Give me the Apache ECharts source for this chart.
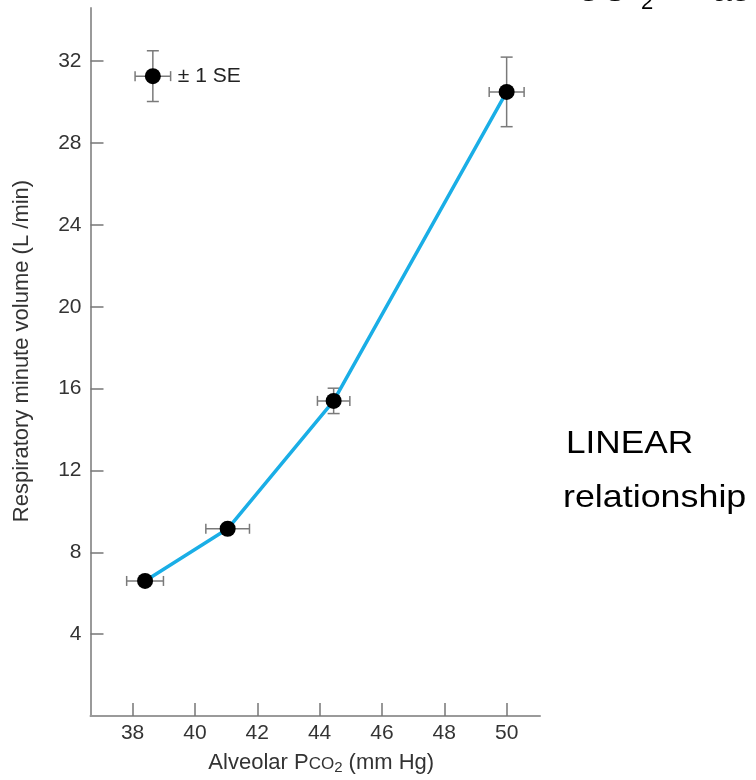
<!DOCTYPE html>
<html><head><meta charset="utf-8">
<script src="https://cdn.jsdelivr.net/npm/echarts@6/dist/echarts.min.js"></script>
<style>html,body{margin:0;padding:0;background:#fff}#c{width:756px;height:780px}</style>
</head><body><div id="c"></div>
<script>
// Data
const pco2 = [38.4, 41.05, 44.45, 50.0];          // Alveolar PCO2 (mm Hg)
const minuteVolume = [6.6, 9.15, 15.4, 30.5];     // Respiratory minute volume (L/min)
const pco2SE = [0.59, 0.7, 0.52, 0.56];
const volumeSE = [0, 0, 0.62, 1.7];
const keyPoint = [38.65, 31.27];                  // "± 1 SE" key symbol
const keyPointSE = [0.57, 1.24];
const xTicks = [38, 40, 42, 44, 46, 48, 50];
const yTicks = [4, 8, 12, 16, 20, 24, 28, 32];
const xRange = [36.65, 51.07];
const yRange = [0, 34.6];

const FONT = 'Liberation Sans, Arial, sans-serif';
const points = pco2.map((x, i) => [x, minuteVolume[i], pco2SE[i], volumeSE[i]]);
const keyData = [[keyPoint[0], keyPoint[1], keyPointSE[0], keyPointSE[1]]];

function errRender(params, api) {
  const x = api.value(0), y = api.value(1), ex = api.value(2), ey = api.value(3);
  const st = { stroke: '#7a7a7a', lineWidth: 1.5 };
  const cap = 5;
  const ch = [];
  if (ex > 0) {
    const l = api.coord([x - ex, y]), r = api.coord([x + ex, y]);
    ch.push({ type: 'line', shape: { x1: l[0], y1: l[1], x2: r[0], y2: r[1] }, style: st });
    ch.push({ type: 'line', shape: { x1: l[0], y1: l[1] - cap, x2: l[0], y2: l[1] + cap }, style: st });
    ch.push({ type: 'line', shape: { x1: r[0], y1: r[1] - cap, x2: r[0], y2: r[1] + cap }, style: st });
  }
  if (ey > 0) {
    const t = api.coord([x, y + ey]), b = api.coord([x, y - ey]);
    ch.push({ type: 'line', shape: { x1: t[0], y1: t[1], x2: b[0], y2: b[1] }, style: st });
    ch.push({ type: 'line', shape: { x1: t[0] - cap - 1, y1: t[1], x2: t[0] + cap + 1, y2: t[1] }, style: st });
    ch.push({ type: 'line', shape: { x1: b[0] - cap - 1, y1: b[1], x2: b[0] + cap + 1, y2: b[1] }, style: st });
  }
  return { type: 'group', children: ch };
}

const chart = echarts.init(document.getElementById('c'), null, { renderer: 'canvas' });
chart.setOption({
  animation: false,
  backgroundColor: '#fff',
  grid: { left: 90.5, right: 216, top: 8, bottom: 58, containLabel: false },
  xAxis: {
    type: 'value', min: xRange[0], max: xRange[1],
    axisLine: { show: true, onZero: false, lineStyle: { color: '#9a9a9a', width: 2 } },
    axisTick: { show: true, inside: true, length: 13, customValues: xTicks, lineStyle: { color: '#777', width: 1.5 } },
    axisLabel: { customValues: xTicks, fontSize: 21, color: '#333', margin: 7, fontFamily: FONT },
    splitLine: { show: false },
    name: 'Alveolar P{sc|CO}{sub|2} (mm Hg)',
    nameLocation: 'middle', nameGap: 34,
    nameTextStyle: {
      fontSize: 22, color: '#333', fontFamily: FONT, padding: [0, 0, 0, 12],
      rich: {
        sc: { fontSize: 17, color: '#333', fontFamily: FONT, padding: [3, 0, 0, 0] },
        sub: { fontSize: 15, color: '#333', fontFamily: FONT, padding: [10, 0, 0, 0] }
      }
    }
  },
  yAxis: {
    type: 'value', min: yRange[0], max: yRange[1],
    axisLine: { show: true, onZero: false, lineStyle: { color: '#9a9a9a', width: 2 } },
    axisTick: { show: true, inside: true, length: 13, customValues: yTicks, lineStyle: { color: '#777', width: 1.5 } },
    axisLabel: { customValues: yTicks, fontSize: 21, color: '#333', margin: 9, fontFamily: FONT },
    splitLine: { show: false },
    name: 'Respiratory minute volume (L /min)',
    nameLocation: 'middle', nameGap: 58,
    nameTextStyle: { fontSize: 22, color: '#333', fontFamily: FONT, padding: [0, 0, 0, 22] }
  },
  series: [
    { type: 'custom', renderItem: errRender, data: points, z: 2, silent: true },
    { type: 'custom', renderItem: errRender, data: keyData, z: 2, silent: true },
    {
      type: 'line', data: points.map(p => [p[0], p[1]]), showSymbol: false, z: 3,
      lineStyle: { color: '#1aaee6', width: 3.5 }
    },
    {
      type: 'scatter', data: points.map(p => [p[0], p[1]]), symbolSize: 16, z: 4,
      itemStyle: { color: '#000', opacity: 1 }
    },
    {
      type: 'scatter', data: [keyPoint], symbolSize: 16, z: 4,
      itemStyle: { color: '#000', opacity: 1 },
      label: { show: true, position: 'right', distance: 17, formatter: '± 1 SE', fontSize: 21, color: '#222', fontFamily: FONT }
    }
  ],
  graphic: [
    { type: 'text', x: 566, y: 444.5, scaleX: 1.1, style: { text: 'LINEAR', fontSize: 32, fill: '#000', fontFamily: FONT, verticalAlign: 'middle' } },
    { type: 'text', x: 563, y: 498.5, scaleX: 1.12, style: { text: 'relationship', fontSize: 32, fill: '#000', fontFamily: FONT, verticalAlign: 'middle' } },
    { type: 'text', x: 575, y: -9, style: { text: 'CO', fontSize: 36, fill: '#000', fontFamily: FONT, verticalAlign: 'middle' } },
    { type: 'text', x: 641, y: 3, style: { text: '2', fontSize: 22, fill: '#000', fontFamily: FONT, verticalAlign: 'middle' } },
    { type: 'text', x: 712, y: -9, style: { text: 'as', fontSize: 36, fill: '#000', fontFamily: FONT, verticalAlign: 'middle' } }
  ]
});
</script></body></html>
